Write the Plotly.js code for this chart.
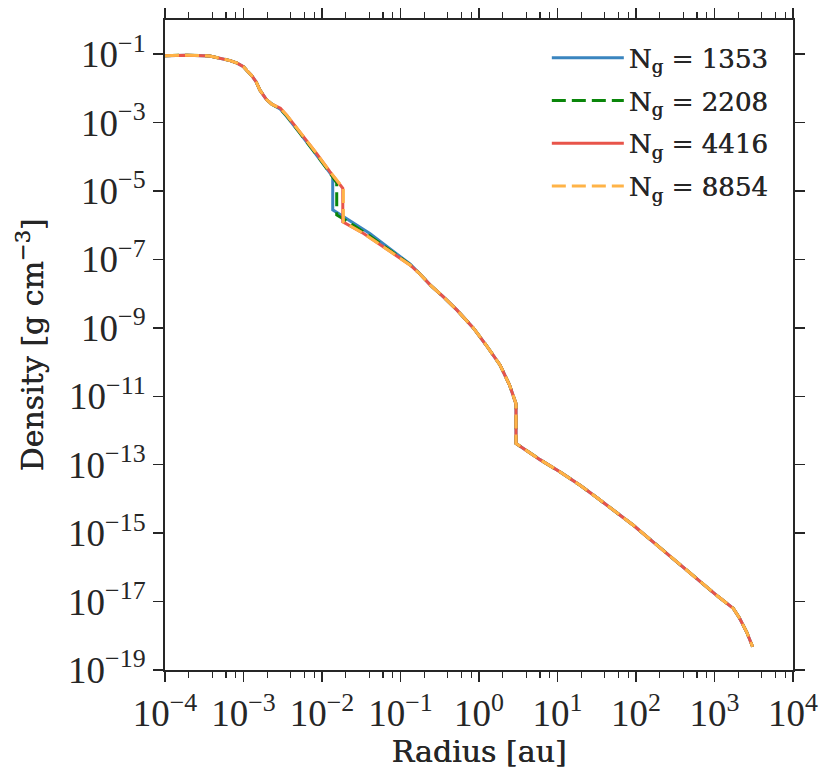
<!DOCTYPE html>
<html>
<head>
<meta charset="utf-8">
<script src="https://cdn.plot.ly/plotly-3.0.1.min.js"></script>
<style>
  html, body { margin: 0; padding: 0; background: #fff; }
  #chart { width: 831px; height: 783px; }
</style>
</head>
<body>
<div id="chart"></div>
<script>
// ---- data (radius in au, density in g cm^-3) ----

// inner part, same for every run
var innerR   = [1.00e-4, 1.91e-4, 3.72e-4, 6.76e-4, 8.3e-4, 1.00e-3, 1.11e-3, 1.26e-3, 1.45e-3, 1.62e-3,
                1.78e-3, 1.95e-3, 2.29e-3];
var innerRho = [9.0e-2,  9.4e-2,  8.9e-2,  6.5e-2,  5.5e-2, 4.3e-2,  3.3e-2,  2.45e-2, 1.55e-2, 8.9e-3,
                6.5e-3,  4.8e-3,  3.47e-3];

// middle part, around the first jump
var midR_1353   = [2.95e-3, 3.55e-3, 5.25e-3, 8.51e-3, 1.26e-2, 1.37e-2, 1.37e-2, 2.04e-2, 4.07e-2, 7.24e-2, 0.132];
var midRho_1353 = [2.45e-3, 1.51e-3, 4.9e-4,  1.12e-4, 3.16e-5, 2.63e-5, 2.82e-6, 1.58e-6, 5.75e-7, 2.09e-7, 7.4e-8];

var midR_2208   = [2.95e-3, 3.55e-3, 5.25e-3, 8.51e-3, 1.26e-2, 1.54e-2, 1.54e-2, 2.24e-2, 3.98e-2, 7.24e-2, 0.132];
var midRho_2208 = [2.5e-3,  1.58e-3, 5.1e-4,  1.17e-4, 3.4e-5,  1.74e-5, 2.0e-6,  1.2e-6,  5.0e-7,  1.9e-7,  7.1e-8];

var midR_4416   = [2.95e-3, 3.55e-3, 5.25e-3, 8.51e-3, 1.26e-2, 1.78e-2, 1.84e-2, 1.84e-2, 3.39e-2, 7.41e-2, 0.132];
var midRho_4416 = [2.63e-3, 1.66e-3, 5.4e-4,  1.26e-4, 3.7e-5,  1.35e-5, 1.2e-5,  1.26e-6, 5.75e-7, 1.7e-7,  6.9e-8];

var midR_8854   = [2.95e-3, 3.55e-3, 5.25e-3, 8.51e-3, 1.26e-2, 1.78e-2, 1.87e-2, 1.87e-2, 3.39e-2, 7.41e-2, 0.132];
var midRho_8854 = [2.63e-3, 1.66e-3, 5.4e-4,  1.26e-4, 3.7e-5,  1.35e-5, 1.2e-5,  1.26e-6, 5.75e-7, 1.7e-7,  6.9e-8];

// outer part, same for every run
var outerR   = [0.178, 0.240, 0.355, 0.525, 0.851, 1.23, 1.86, 2.45, 2.95, 2.96, 2.96, 5.98, 10.7, 19.4, 31.6,
                53.7, 92.5, 151, 245, 398, 653, 1122, 1738, 2089, 2570, 3055];
var outerRho = [3.7e-8, 1.78e-8, 7.9e-9, 3.3e-9, 9.8e-10, 3.16e-10, 8.1e-11, 2.14e-11, 6.2e-12, 5.6e-12, 4.2e-13,
                1.41e-13, 6.2e-14, 2.51e-14, 1.1e-14, 4.5e-15, 1.7e-15, 6.6e-16, 2.57e-16, 1.02e-16, 3.8e-17,
                1.38e-17, 6.3e-18, 3.24e-18, 1.29e-18, 4.8e-19];

var runNames  = ['N<sub>g</sub> = 1353', 'N<sub>g</sub> = 2208', 'N<sub>g</sub> = 4416', 'N<sub>g</sub> = 8854'];
var runColors = ['#3a85bf', '#0a860a', '#e8544a', '#ffb347'];
var runDash   = ['solid', '14px,6px', 'solid', '14px,6px'];

var xTickVals = [1e-4, 1e-3, 1e-2, 1e-1, 1e0, 1e1, 1e2, 1e3, 1e4];
var xTickText = ['10<sup>−4</sup>', '10<sup>−3</sup>', '10<sup>−2</sup>', '10<sup>−1</sup>', '10<sup>0</sup>',
                 '10<sup>1</sup>', '10<sup>2</sup>', '10<sup>3</sup>', '10<sup>4</sup>'];
var yTickVals = [1e-1, 1e-3, 1e-5, 1e-7, 1e-9, 1e-11, 1e-13, 1e-15, 1e-17, 1e-19];
var yTickText = ['10<sup>−1</sup>', '10<sup>−3</sup>', '10<sup>−5</sup>', '10<sup>−7</sup>', '10<sup>−9</sup>',
                 '10<sup>−11</sup>', '10<sup>−13</sup>', '10<sup>−15</sup>', '10<sup>−17</sup>', '10<sup>−19</sup>'];
var minorSubs = [2, 4, 6, 8];

// ---- build ----
var mids = [[midR_1353, midRho_1353], [midR_2208, midRho_2208], [midR_4416, midRho_4416], [midR_8854, midRho_8854]];

var data = [];
for (var i = 0; i < mids.length; i++) {
  data.push({
    x: innerR.concat(mids[i][0], outerR),
    y: innerRho.concat(mids[i][1], outerRho),
    name: runNames[i],
    legendgroup: 'g' + i,
    type: 'scatter',
    mode: 'lines',
    line: {color: runColors[i], width: 3, dash: runDash[i]}
  });
}

var xMinor = [];
xTickVals.slice(0, -1).forEach(function (d) {
  minorSubs.forEach(function (s) { xMinor.push(s * d); });
});

// a thin shadow makes the regular face look a bit heavier, like the original
var heavy = '0.5px 0 0 #262626';
var tickFont = {family: 'Liberation Serif', size: 37, color: '#262626'};
var titleFont = {family: 'DejaVu Serif', size: 30, color: '#262626', shadow: heavy};
var axisCommon = {
  type: 'log',
  showline: true, linecolor: '#262626', linewidth: 2,
  mirror: 'allticks',
  ticks: 'outside', ticklen: 10, tickwidth: 1.5, tickcolor: '#262626',
  showgrid: false, zeroline: false,
  tickfont: tickFont
};

var layout = {
  width: 831, height: 783,
  margin: {l: 165, r: 38, t: 20, b: 113},
  paper_bgcolor: '#fff', plot_bgcolor: '#fff',
  showlegend: true,
  legend: {
    x: 0.608, y: 0.978, xanchor: 'left', yanchor: 'top',
    bgcolor: 'rgba(0,0,0,0)', borderwidth: 0,
    itemwidth: 72,
    tracegroupgap: 6,
    font: {family: 'DejaVu Serif', size: 26, color: '#262626', shadow: heavy}
  },
  xaxis: Object.assign({}, axisCommon, {
    range: [-4, 4],
    tickmode: 'array', tickvals: xTickVals, ticktext: xTickText,
    minor: {tickmode: 'array', tickvals: xMinor, ticks: 'outside', ticklen: 6, tickwidth: 1.2, tickcolor: '#262626'},
    title: {text: 'Radius [au]', standoff: 5, font: titleFont}
  }),
  yaxis: Object.assign({}, axisCommon, {
    range: [-19, 0],
    tickmode: 'array', tickvals: yTickVals, ticktext: yTickText,
    title: {text: 'Density [g cm<sup>−3</sup>]', standoff: 16, font: titleFont}
  })
};

Plotly.newPlot('chart', data, layout, {staticPlot: true});
</script>
</body>
</html>
